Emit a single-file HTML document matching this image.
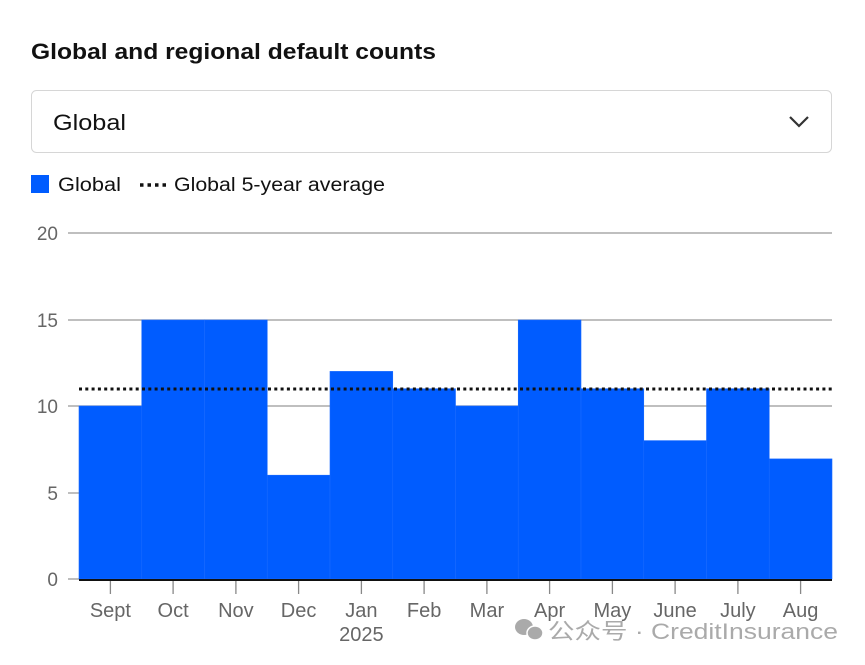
<!DOCTYPE html>
<html><head><meta charset="utf-8"><style>
html,body{margin:0;padding:0;background:#fff;}
body{width:865px;height:665px;overflow:hidden;position:relative;font-family:"Liberation Sans",sans-serif;}
</style></head><body>
<svg width="865" height="665" xmlns="http://www.w3.org/2000/svg" style="position:absolute;left:0;top:0">
<text x="31" y="59" font-family="Liberation Sans, sans-serif" font-weight="bold" font-size="22" fill="#111" textLength="405" lengthAdjust="spacingAndGlyphs">Global and regional default counts</text>
<rect x="31.5" y="90.5" width="800" height="62" rx="5" fill="#fff" stroke="#d6d6d6"/>
<text x="53" y="130" font-family="Liberation Sans, sans-serif" font-size="22" fill="#111" textLength="73" lengthAdjust="spacingAndGlyphs">Global</text>
<polyline points="790,117 799,126 808,117" fill="none" stroke="#333" stroke-width="2.2"/>
<rect x="31" y="175" width="18" height="18" fill="#005cff"/>
<text x="58" y="191" font-family="Liberation Sans, sans-serif" font-size="19" fill="#111" textLength="63" lengthAdjust="spacingAndGlyphs">Global</text>
<line x1="140" y1="185" x2="166" y2="185" stroke="#111" stroke-width="3.5" stroke-dasharray="3.5,4"/>
<text x="174" y="191" font-family="Liberation Sans, sans-serif" font-size="19" fill="#111" textLength="211" lengthAdjust="spacingAndGlyphs">Global 5-year average</text>
<g stroke="#999" stroke-width="1.3">
<line x1="68" y1="233" x2="832" y2="233"/>
<line x1="68" y1="320" x2="832" y2="320"/>
<line x1="68" y1="406" x2="832" y2="406"/>
<line x1="68" y1="493" x2="832" y2="493"/>
<line x1="68" y1="579" x2="80" y2="579"/>
</g>
<g font-family="Liberation Sans, sans-serif" font-size="19" fill="#666" text-anchor="end">
<text x="58" y="240">20</text><text x="58" y="327">15</text><text x="58" y="413">10</text><text x="58" y="500">5</text><text x="58" y="586">0</text>
</g>
<g fill="#005cff" stroke="#1a6aff" stroke-width="0.6">
<rect x="79" y="406" width="62.75" height="173"/>
<rect x="141.75" y="320" width="62.75" height="259"/>
<rect x="204.5" y="320" width="62.75" height="259"/>
<rect x="267.25" y="475.2" width="62.75" height="103.8"/>
<rect x="330" y="371.4" width="62.75" height="207.6"/>
<rect x="392.75" y="388.7" width="62.75" height="190.3"/>
<rect x="455.5" y="406" width="62.75" height="173"/>
<rect x="518.25" y="320" width="62.75" height="259"/>
<rect x="581" y="388.7" width="62.75" height="190.3"/>
<rect x="643.75" y="440.6" width="62.75" height="138.4"/>
<rect x="706.5" y="388.7" width="62.75" height="190.3"/>
<rect x="769.25" y="458.9" width="62.75" height="120.1"/>
</g>
<line x1="79" y1="389" x2="832" y2="389" stroke="#111" stroke-width="3" stroke-dasharray="3,3.3"/>
<line x1="79" y1="580" x2="832" y2="580" stroke="#111" stroke-width="2"/>
<g stroke="#888" stroke-width="1.3">
<line x1="110.4" y1="581" x2="110.4" y2="594"/><line x1="173.1" y1="581" x2="173.1" y2="594"/><line x1="235.9" y1="581" x2="235.9" y2="594"/><line x1="298.6" y1="581" x2="298.6" y2="594"/><line x1="361.4" y1="581" x2="361.4" y2="594"/><line x1="424.1" y1="581" x2="424.1" y2="594"/><line x1="486.9" y1="581" x2="486.9" y2="594"/><line x1="549.6" y1="581" x2="549.6" y2="594"/><line x1="612.4" y1="581" x2="612.4" y2="594"/><line x1="675.1" y1="581" x2="675.1" y2="594"/><line x1="737.9" y1="581" x2="737.9" y2="594"/><line x1="800.6" y1="581" x2="800.6" y2="594"/>
</g>
<g font-family="Liberation Sans, sans-serif" font-size="20" fill="#666" text-anchor="middle">
<text x="110.4" y="617">Sept</text><text x="173.1" y="617">Oct</text><text x="235.9" y="617">Nov</text><text x="298.6" y="617">Dec</text><text x="361.4" y="617">Jan</text><text x="424.1" y="617">Feb</text><text x="486.9" y="617">Mar</text><text x="549.6" y="617">Apr</text><text x="612.4" y="617">May</text><text x="675.1" y="617">June</text><text x="737.9" y="617">July</text><text x="800.6" y="617">Aug</text>
<text x="361.4" y="641">2025</text>
</g>
<g fill="#aaa"><ellipse cx="524" cy="627" rx="9" ry="8"/><ellipse cx="535" cy="633" rx="8" ry="7" stroke="#fff" stroke-width="1.5"/></g>
<text x="548" y="639" font-family="Liberation Sans, Noto Sans CJK SC, sans-serif" font-size="22" fill="#aaa" textLength="290" lengthAdjust="spacingAndGlyphs">公众号 · CreditInsurance</text>
</svg>
</body></html>
